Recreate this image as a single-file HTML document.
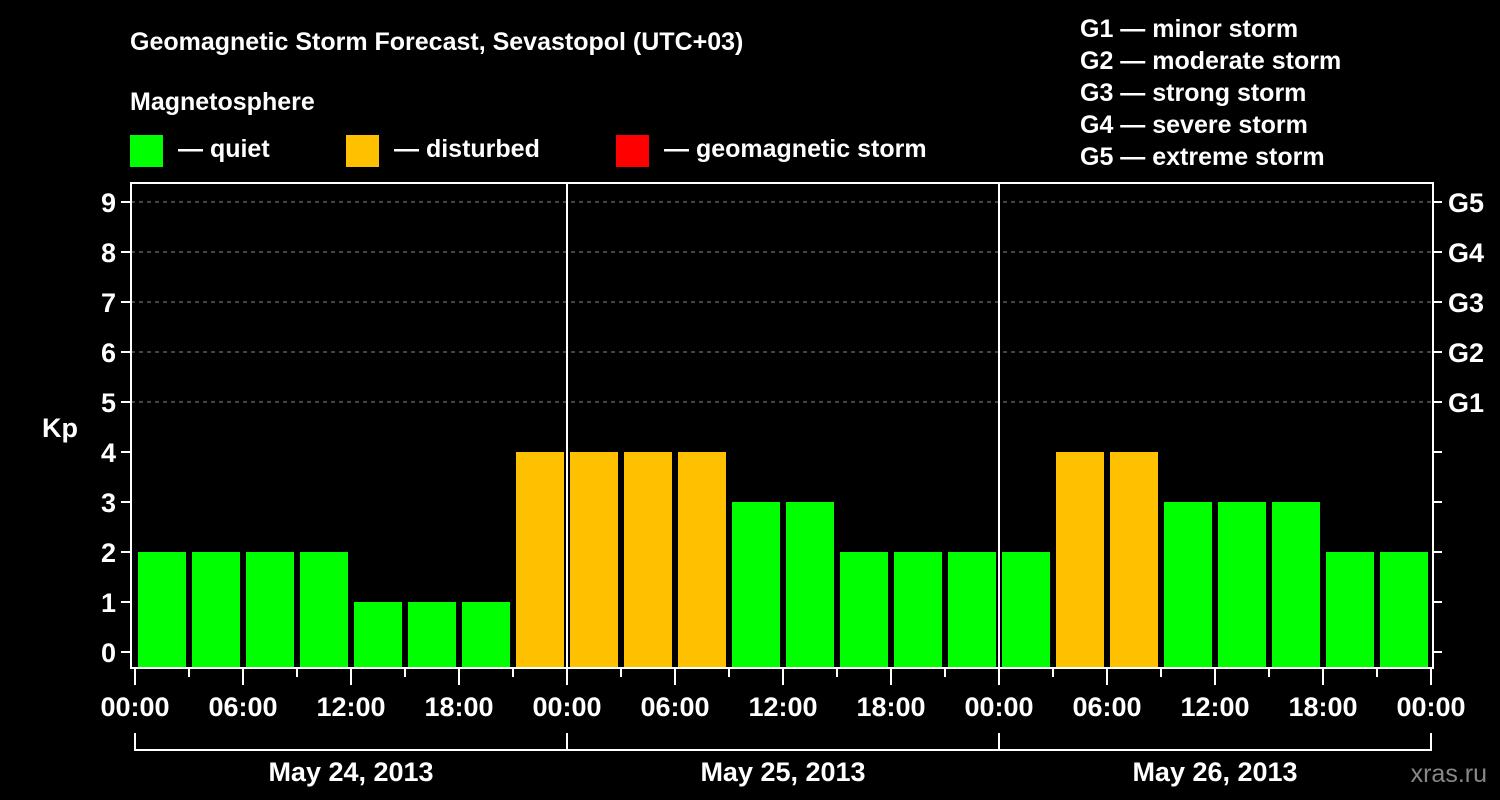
<!DOCTYPE html>
<html><head><meta charset="utf-8"><style>
body{margin:0;background:#000;}
svg{display:block;font-family:"Liberation Sans",sans-serif;font-weight:bold;fill:#fff;}
</style></head><body>
<svg id="c" width="1500" height="800" viewBox="0 0 1500 800">
<rect width="1500" height="800" fill="#000"/>
<text x="130" y="50" font-size="25">Geomagnetic Storm Forecast, Sevastopol (UTC+03)</text>
<text x="130" y="110" font-size="25">Magnetosphere</text>
<g><rect x="130" y="135" width="33" height="32" fill="#00ff00"/><text x="178" y="157" font-size="25">— quiet</text></g>
<g><rect x="346" y="135" width="33" height="32" fill="#ffc000"/><text x="394" y="157" font-size="25">— disturbed</text></g>
<g><rect x="616" y="135" width="33" height="32" fill="#ff0000"/><text x="664" y="157" font-size="25">— geomagnetic storm</text></g>
<g font-size="25">
<text x="1080" y="37">G1 — minor storm</text><text x="1080" y="69">G2 — moderate storm</text><text x="1080" y="101">G3 — strong storm</text><text x="1080" y="133">G4 — severe storm</text><text x="1080" y="165">G5 — extreme storm</text>
</g>
<text x="42" y="437" font-size="27">Kp</text>
<text x="1487" y="782" font-size="25" fill="#888" style="fill:#888;font-weight:normal" text-anchor="end">xras.ru</text>
<g id="grid"></g><g id="bars"></g><g id="axes"></g>
</svg>
<script>
const kpValues=[2,2,2,2,1,1,1,4, 4,4,4,3,3,2,2,2, 2,4,4,3,3,3,2,2];
const yTicks=[0,1,2,3,4,5,6,7,8,9];
const gLabels=["G1","G2","G3","G4","G5"];
const xTickLabels=["00:00","06:00","12:00","18:00","00:00","06:00","12:00","18:00","00:00","06:00","12:00","18:00","00:00"];
const dayLabels=["May 24, 2013","May 25, 2013","May 26, 2013"];
const NS="http://www.w3.org/2000/svg";
const X0=135,HR=18,Y0=652,KU=50;
const x=h=>X0+h*HR, y=v=>Y0-v*KU;
function mk(p,t,a){const e=document.createElementNS(NS,t);for(const k in a)e.setAttribute(k,a[k]);p.appendChild(e);return e;}
const grid=document.getElementById('grid'),bars=document.getElementById('bars'),ax=document.getElementById('axes');
for(let v=5;v<=9;v++){const l=mk(grid,'line',{x1:131,x2:1433,y1:y(v),y2:y(v),stroke:'#888','stroke-dasharray':'4,4','stroke-width':1});

}
kpValues.forEach((v,i)=>{const c=v>=5?'#ff0000':v>=4?'#ffc000':'#00ff00';
const r=mk(bars,'rect',{x:x(i*3)+3,y:y(v),width:48,height:668-y(v),fill:c});

});
const fr=mk(ax,'rect',{x:131,y:183,width:1302,height:485,fill:'none',stroke:'#fff','stroke-width':2});


[1,2].forEach(d=>{const l=mk(ax,'line',{x1:x(d*24),x2:x(d*24),y1:183,y2:668,stroke:'#fff','stroke-width':2});

});
yTicks.forEach(v=>{mk(ax,'line',{x1:121,x2:131,y1:y(v),y2:y(v),stroke:'#fff','stroke-width':2});
mk(ax,'line',{x1:1433,x2:1442,y1:y(v),y2:y(v),stroke:'#fff','stroke-width':2});
const t=mk(ax,'text',{x:116,y:y(v)+10,'font-size':27,'text-anchor':'end'});t.textContent=v;

});
gLabels.forEach((g,i)=>{const t=mk(ax,'text',{x:1448,y:y(5+i)+10,'font-size':27});t.textContent=g;

});
for(let h=0;h<=72;h+=3){const maj=h%6===0;mk(ax,'line',{x1:x(h),x2:x(h),y1:669,y2:maj?685:677,stroke:'#fff','stroke-width':2});}
xTickLabels.forEach((s,i)=>{const t=mk(ax,'text',{x:x(i*6),y:716,'font-size':27,'text-anchor':'middle'});t.textContent=s;

});
mk(ax,'path',{d:`M${x(0)},733V750H${x(72)}V733`,fill:'none',stroke:'#fff','stroke-width':2});
[1,2].forEach(d=>mk(ax,'line',{x1:x(d*24),x2:x(d*24),y1:733,y2:750,stroke:'#fff','stroke-width':2}));
dayLabels.forEach((s,i)=>{const t=mk(ax,'text',{x:x(i*24+12),y:781,'font-size':27,'text-anchor':'middle'});t.textContent=s;

});
</script>
</body></html>
